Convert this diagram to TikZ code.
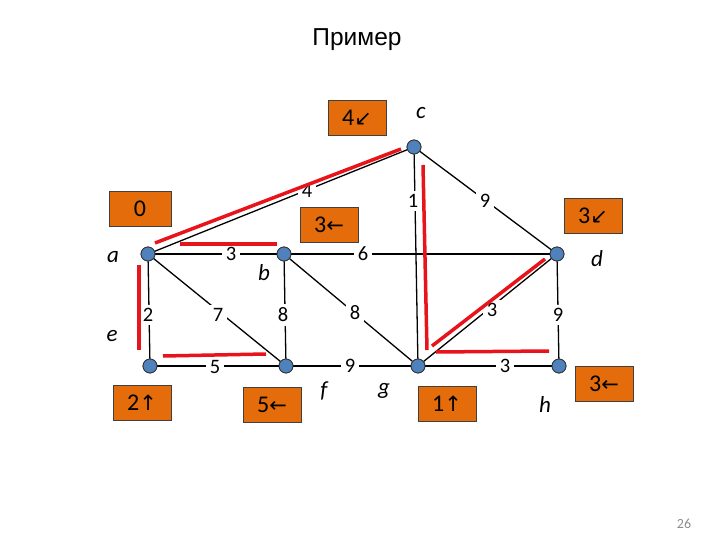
\documentclass[tikz,border=0pt]{standalone}
\usepackage{fontspec}
\setmainfont{Carlito}
\newfontfamily\titlefont{Liberation Sans}
\newfontfamily\arrfont{DejaVu Sans}
\definecolor{boxorange}{HTML}{E46C0A}
\definecolor{vblue}{HTML}{4F81BD}
\definecolor{pathred}{HTML}{E8141C}
\newcommand{\arw}[1]{{\arrfont\fontsize{21}{21}\selectfont #1}}
\begin{document}
\begin{tikzpicture}[x=1pt,y=-1pt,
  vert/.style={circle,draw=black!80,fill=vblue,line width=0.8pt,minimum size=14pt,inner sep=0pt},
  edge/.style={draw=black,line width=1.3pt},
  wlab/.style={fill=white,inner sep=3.5pt,font=\fontsize{20.5}{20.5}\selectfont},
  vlab/.style={font=\fontsize{23}{23}\selectfont\itshape},
  obox/.style={draw=black!75,fill=boxorange,line width=0.9pt,minimum width=58pt,minimum height=35pt,inner sep=0pt,font=\fontsize{24}{24}\selectfont},
  redl/.style={draw=pathred,line width=3.5pt}]
\useasboundingbox (0,0) rectangle (720,540);
\node[font=\titlefont\fontsize{24.5}{24.5}\selectfont] (title) at (357,40) {Пример};
% vertices
\node[vert] (a) at (148,254) {};
\node[vert] (b) at (284,254) {};
\node[vert] (c) at (414,147) {};
\node[vert] (d) at (557,254) {};
\node[vert] (e) at (150,366) {};
\node[vert] (f) at (286,366) {};
\node[vert] (g) at (418,366) {};
\node[vert] (h) at (559,366) {};
% edges
\draw[edge] (a) -- (c);
\draw[edge] (c) -- (g);
\draw[edge] (c) -- (d);
\draw[edge] (a) -- (b);
\draw[edge] (b) -- (d);
\draw[edge] (a) -- (e);
\draw[edge] (a) -- (f);
\draw[edge] (b) -- (f);
\draw[edge] (b) -- (g);
\draw[edge] (g) -- (d);
\draw[edge] (d) -- (h);
\draw[edge] (e) -- (f);
\draw[edge] (f) -- (g);
\draw[edge] (g) -- (h);
% redraw vertices on top
\foreach \v in {a,b,c,d,e,f,g,h} {\node[vert] at (\v) {};}
% weights
\node[wlab] (w1) at (307,191) {4};
\node[wlab] (w2) at (413,201) {1};
\node[wlab] (w3) at (485,201) {9};
\node[wlab] (w4) at (231,254) {3};
\node[wlab] (w5) at (363,254) {6};
\node[wlab] (w6) at (148,315) {2};
\node[wlab] (w7) at (218,315) {7};
\node[wlab] (w8) at (283,315) {8};
\node[wlab] (w9) at (355,313) {8};
\node[wlab] (w10) at (492,310) {3};
\node[wlab] (w11) at (558,315) {9};
\node[wlab] (w12) at (215,367) {5};
\node[wlab] (w13) at (350,366) {9};
\node[wlab] (w14) at (505,366) {3};
% red tree
\coordinate (r1s) at (155,243); \coordinate (r1e) at (401,149);
\coordinate (r2s) at (180,244); \coordinate (r2e) at (277,244);
\coordinate (r3s) at (139,265); \coordinate (r3e) at (139,350);
\coordinate (r4s) at (163,356); \coordinate (r4e) at (266,354);
\coordinate (r5s) at (423,165); \coordinate (r5e) at (427,350);
\coordinate (r6s) at (432,346); \coordinate (r6e) at (545,259);
\coordinate (r7s) at (436,352); \coordinate (r7e) at (549,351);
\draw[redl] (r1s) -- (r1e);
\draw[redl] (r2s) -- (r2e);
\draw[redl] (r3s) -- (r3e);
\draw[redl] (r4s) -- (r4e);
\draw[redl] (r5s) -- (r5e);
\draw[redl] (r6s) -- (r6e);
\draw[redl] (r7s) -- (r7e);
% vertex letters
\node[vlab] (la) at (113,257) {a};
\node[vlab] (lb) at (264,273) {b};
\node[vlab] (lc) at (421,113) {c};
\node[vlab] (ld) at (597,259) {d};
\node[vlab] (le) at (112,336) {e};
\node[vlab] (lf) at (324,391) {f};
\node[vlab] (lg) at (384,391) {g};
\node[vlab] (lh) at (545,405) {h};
% orange boxes
\node[obox] (bc) at (357,118) {4\arw{↙}};
\node[obox,minimum width=62pt] (ba) at (140,209) {0};
\node[obox] (bb) at (329,225) {3\arw{←}};
\node[obox] (bd) at (593,216) {3\arw{↙}};
\node[obox] (be) at (142,403) {2\arw{↑}};
\node[obox] (bf) at (272,405) {5\arw{←}};
\node[obox] (bg) at (447,404) {1\arw{↑}};
\node[obox] (bh) at (604,384) {3\arw{←}};
% page number
\node[text=black!45,font=\fontsize{14}{14}\selectfont] (pn) at (684,524) {26};
\end{tikzpicture}
\end{document}
